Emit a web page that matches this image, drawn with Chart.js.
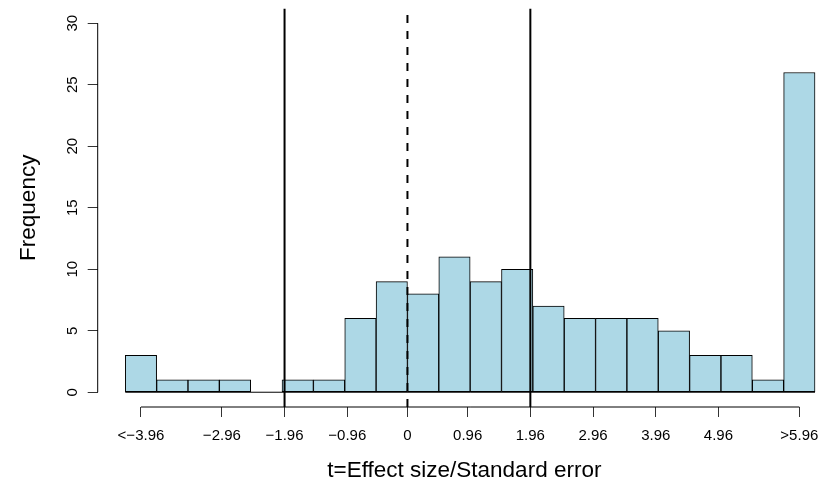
<!DOCTYPE html>
<html>
<head>
<meta charset="utf-8">
<script src="https://cdn.jsdelivr.net/npm/chart.js@4/dist/chart.umd.min.js"></script>
<style>
  body { margin: 0; background: #fff; }
  canvas { display: block; }
</style>
</head>
<body>
<canvas id="histo" width="831" height="486"></canvas>
<script>
// histogram bins (centres, width 0.5) and their frequencies
const binMids = [-4.25, -3.75, -3.25, -2.75, -2.25, -1.75, -1.25, -0.75, -0.25, 0.25, 0.75,
                 1.25, 1.75, 2.25, 2.75, 3.25, 3.75, 4.25, 4.75, 5.25, 5.75, 6.25];
const counts = [3, 1, 1, 1, 0, 1, 1, 6, 9, 8, 11, 9, 10, 7, 6, 6, 6, 5, 3, 3, 1, 26];
const binWidth = 0.5;

// vertical reference lines
const refLines = [-1.96, 0, 1.96];
const refDashed = [false, true, false];

// axis ticks
const xTickVals = [-4.25, -2.96, -1.96, -0.96, 0, 0.96, 1.96, 2.96, 3.96, 4.96, 6.25];
const xTickLabels = ['<\u22123.96', '\u22122.96', '\u22121.96', '\u22120.96', '0', '0.96',
                     '1.96', '2.96', '3.96', '4.96', '>5.96'];
const yTickVals = [0, 5, 10, 15, 20, 25, 30];

// plot range (R style 4% extension; right side cut off by the window edge)
const xMin = -4.94, xMax = 6.755;
const yMin = -1.2, yMax = 31.2;

const font = "'Liberation Sans', Arial, Helvetica, sans-serif";
const ctx = document.getElementById('histo');

const lineSets = refLines.map((v, i) => ({
    type: 'line',
    data: [{x: v, y: yMin}, {x: v, y: yMax}],
    borderColor: '#000',
    borderWidth: 2,
    borderDash: refDashed[i] ? [8, 8] : [],
    pointRadius: 0,
    order: 1
}));

// axis lines drawn R-style: only between first and last tick
const firstEdge = binMids[0] - binWidth / 2;
const lastEdge = binMids[binMids.length - 1] + binWidth / 2;
const axisSets = [
    {data: [{x: firstEdge, y: 0}, {x: lastEdge, y: 0}]},   // bottom of the bars (empty bin too)
    {data: [{x: xTickVals[0], y: yMin}, {x: xTickVals[xTickVals.length - 1], y: yMin}]},
    {data: [{x: xMin, y: yTickVals[0]}, {x: xMin, y: yTickVals[yTickVals.length - 1]}]}
].map(d => Object.assign({
    type: 'line',
    borderColor: '#000',
    borderWidth: 1,
    pointRadius: 0,
    clip: false,
    order: 1
}, d));

new Chart(ctx, {
    type: 'bar',
    data: {
        datasets: [
            ...lineSets,
            ...axisSets,
            {
                type: 'bar',
                data: binMids.map((m, i) => ({x: m, y: counts[i]})),
                backgroundColor: '#ADD8E6',
                borderColor: '#000',
                borderWidth: 1,
                borderSkipped: false,
                barPercentage: 1,
                categoryPercentage: 1,
                order: 2
            }
        ]
    },
    options: {
        responsive: false,
        animation: false,
        layout: { padding: { top: 8.5, right: 0, left: 0, bottom: 0 } },
        plugins: { legend: { display: false }, tooltip: { enabled: false } },
        scales: {
            x: {
                type: 'linear',
                min: xMin,
                max: xMax,
                offset: false,
                afterBuildTicks: ax => { ax.ticks = xTickVals.map(v => ({value: v})); },
                afterFit: ax => {
                    ax.height = 79;
                    ax.paddingLeft = 0;
                    ax.paddingRight = 0;
                },
                grid: { offset: false, drawOnChartArea: false, drawTicks: true, tickLength: 10, color: '#333' },
                border: { display: false },
                ticks: {
                    autoSkip: false,
                    maxRotation: 0,
                    padding: 10,
                    color: '#000',
                    font: { family: font, size: 15 },
                    callback: (v, i) => xTickLabels[i]
                },
                title: {
                    display: true,
                    text: 't=Effect size/Standard error',
                    color: '#000',
                    font: { family: font, size: 22.5 },
                    padding: { top: 0, bottom: 1.5 }
                }
            },
            y: {
                min: yMin,
                max: yMax,
                afterBuildTicks: ax => { ax.ticks = yTickVals.map(v => ({value: v})); },
                afterFit: ax => {
                    ax.width = 97.7;
                    ax.paddingTop = 0;
                    ax.paddingBottom = 0;
                },
                grid: { drawOnChartArea: false, drawTicks: true, tickLength: 10, color: '#333' },
                border: { display: false },
                ticks: {
                    minRotation: 90,
                    maxRotation: 90,
                    crossAlign: 'center',
                    padding: 6,
                    color: '#000',
                    font: { family: font, size: 15 }
                },
                title: {
                    display: true,
                    text: 'Frequency',
                    color: '#000',
                    font: { family: font, size: 22.5 },
                    padding: { top: 15, bottom: 0 }
                }
            }
        }
    }
});
</script>
</body>
</html>
